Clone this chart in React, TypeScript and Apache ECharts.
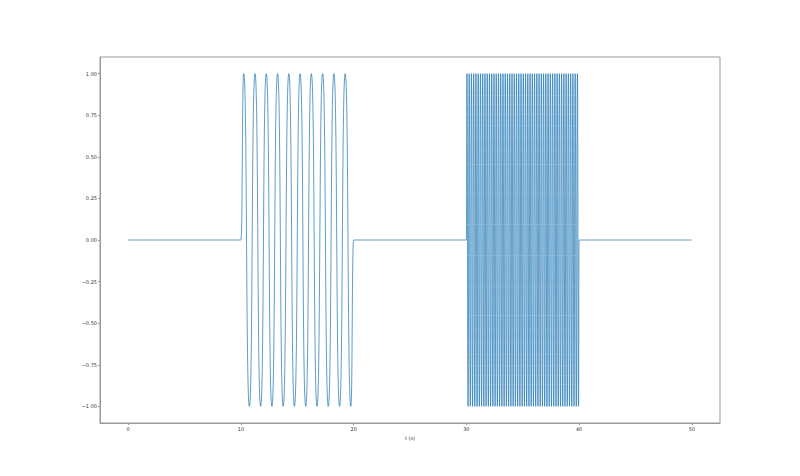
import { useEffect, useRef } from 'react';
import * as echarts from 'echarts';

// flat (zero) stretches of the signal, [start, end] in seconds
const quietSpans: Array<[number, number]> = [
  [0, 10],
  [20, 30],
  [40, 50],
];

// slow burst, 10 s long: crests and troughs
const slowPeaks = [10.25, 11.25, 12.25, 13.25, 14.25, 15.25, 16.25, 17.25, 18.25, 19.25];
const slowTroughs = [10.75, 11.75, 12.75, 13.75, 14.75, 15.75, 16.75, 17.75, 18.75, 19.75];

// fast burst, 10 s long
const fastPeaks = [
  30.05, 30.25, 30.45, 30.65, 30.85, 31.05, 31.25, 31.45, 31.65, 31.85,
  32.05, 32.25, 32.45, 32.65, 32.85, 33.05, 33.25, 33.45, 33.65, 33.85,
  34.05, 34.25, 34.45, 34.65, 34.85, 35.05, 35.25, 35.45, 35.65, 35.85,
  36.05, 36.25, 36.45, 36.65, 36.85, 37.05, 37.25, 37.45, 37.65, 37.85,
  38.05, 38.25, 38.45, 38.65, 38.85, 39.05, 39.25, 39.45, 39.65, 39.85,
];
const fastTroughs = [
  30.15, 30.35, 30.55, 30.75, 30.95, 31.15, 31.35, 31.55, 31.75, 31.95,
  32.15, 32.35, 32.55, 32.75, 32.95, 33.15, 33.35, 33.55, 33.75, 33.95,
  34.15, 34.35, 34.55, 34.75, 34.95, 35.15, 35.35, 35.55, 35.75, 35.95,
  36.15, 36.35, 36.55, 36.75, 36.95, 37.15, 37.35, 37.55, 37.75, 37.95,
  38.15, 38.35, 38.55, 38.75, 38.95, 39.15, 39.35, 39.55, 39.75, 39.95,
];

const crest = 1;
const trough = -1;

const xTicks = [0, 10, 20, 30, 40, 50];
const yTicks = [-1, -0.75, -0.5, -0.25, 0, 0.25, 0.5, 0.75, 1];

function buildSignal(): Array<[number, number]> {
  const pts: Array<[number, number]> = [];
  quietSpans.forEach(([a, b]) => {
    pts.push([a, 0], [b, 0]);
  });
  slowPeaks.forEach((t) => pts.push([t, crest]));
  slowTroughs.forEach((t) => pts.push([t, trough]));
  fastPeaks.forEach((t) => pts.push([t, crest]));
  fastTroughs.forEach((t) => pts.push([t, trough]));
  return pts.sort((p, q) => p[0] - q[0]);
}

const FONT = 'DejaVu Sans';
const SPINE = '#999';

export default function App() {
  const chartRef = useRef<HTMLDivElement>(null);

  useEffect(() => {
    if (!chartRef.current) return;
    const chart = echarts.init(chartRef.current, undefined, { renderer: 'svg' });

    chart.setOption({
      animation: false,
      backgroundColor: '#fff',
      grid: { left: 100, right: 80, top: 57, bottom: 53 },
      xAxis: {
        type: 'value',
        min: -2.5,
        max: 52.5,
        name: 't (s)',
        nameLocation: 'middle',
        nameGap: 10,
        nameTextStyle: { fontFamily: FONT, fontSize: 5, color: '#333' },
        splitLine: { show: false },
        axisLine: { show: true, onZero: false, lineStyle: { color: SPINE, width: 1 } },
        axisTick: { show: true, length: 2, customValues: xTicks, lineStyle: { color: SPINE } },
        axisLabel: {
          customValues: xTicks,
          fontFamily: FONT,
          fontSize: 5,
          color: '#333',
          margin: 3,
        },
      },
      yAxis: {
        type: 'value',
        min: -1.1,
        max: 1.1,
        splitLine: { show: false },
        axisLine: { show: true, onZero: false, lineStyle: { color: SPINE, width: 1 } },
        axisTick: { show: true, length: 2, customValues: yTicks, lineStyle: { color: SPINE } },
        axisLabel: {
          customValues: yTicks,
          fontFamily: FONT,
          fontSize: 5,
          color: '#333',
          margin: 3,
          formatter: (v: number) => v.toFixed(2).replace('-', '\u2212'),
        },
      },
      series: [
        {
          type: 'line',
          data: buildSignal(),
          showSymbol: false,
          smooth: 0.6,
          smoothMonotone: 'x',
          lineStyle: { color: '#1f77b4', width: 0.8, opacity: 0.9 },
        },
      ],
      graphic: [
        // top and right spines of the axes box
        {
          type: 'rect',
          shape: { x: 100, y: 57, width: 620, height: 366 },
          style: { fill: 'none', stroke: SPINE, lineWidth: 1 },
          silent: true,
        },
      ],
    });

    return () => chart.dispose();
  }, []);

  return (
    <div
      ref={chartRef}
      style={{ position: 'fixed', left: 0, top: 0, width: 800, height: 476 }}
    />
  );
}
